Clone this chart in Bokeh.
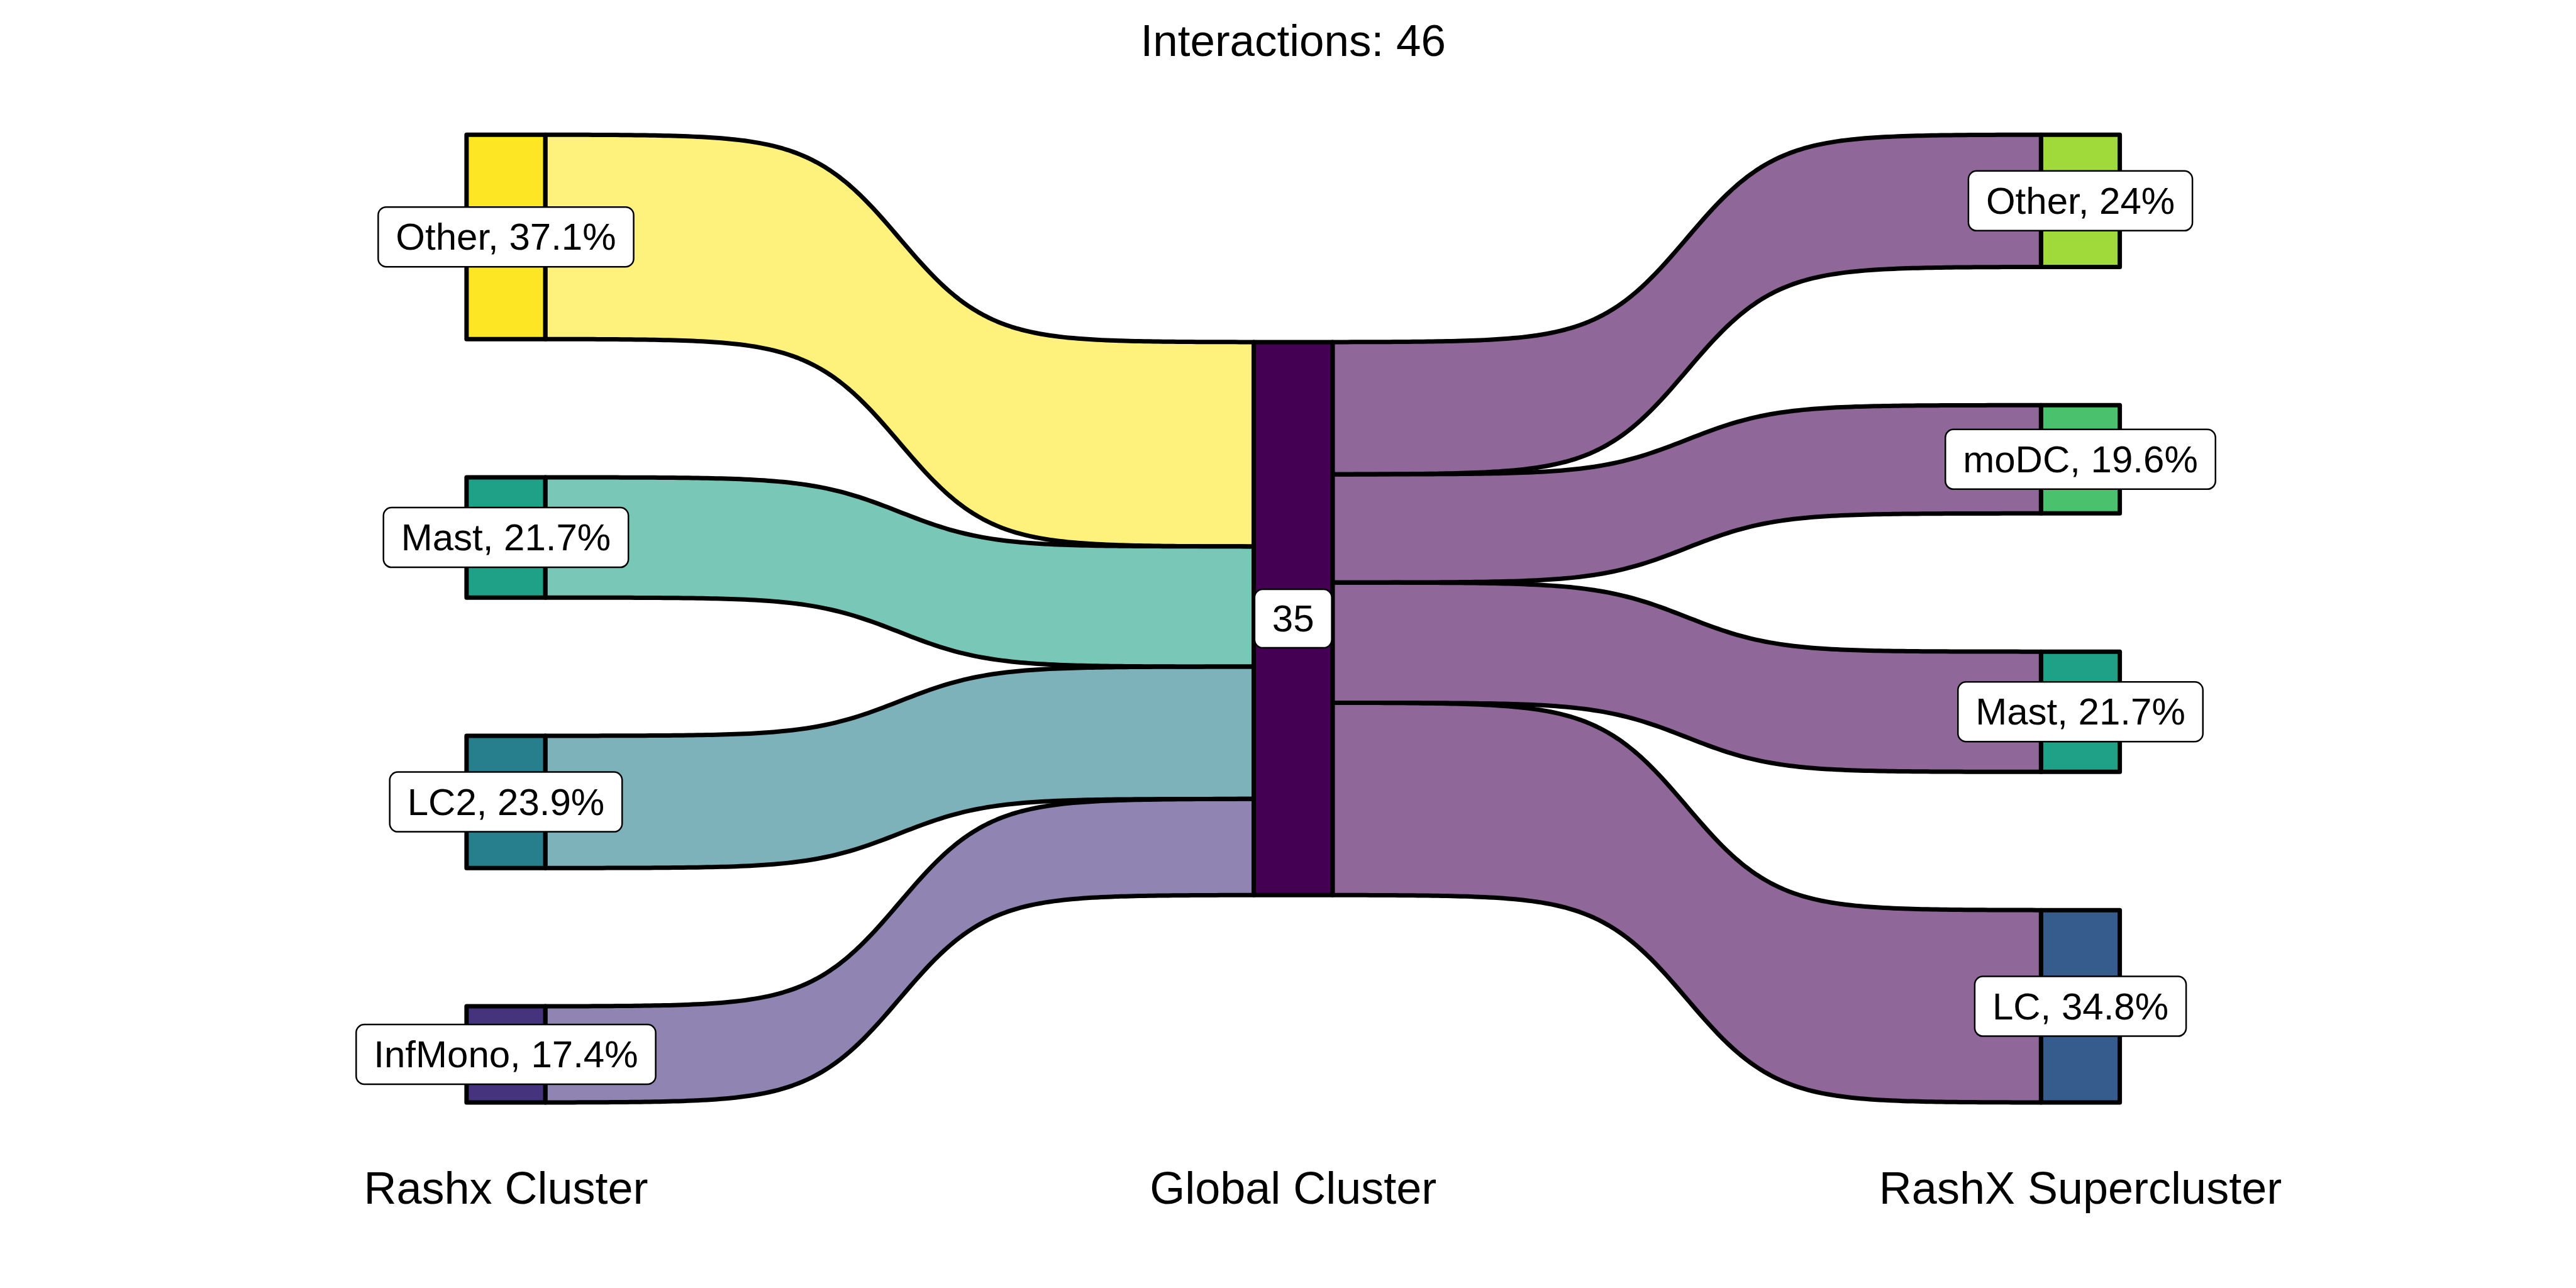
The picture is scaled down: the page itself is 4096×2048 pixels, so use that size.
import numpy as np
from bokeh.plotting import figure
from bokeh.models import Range1d
from bokeh.core.properties import value
from bokeh.embed import file_html
from bokeh.resources import INLINE

# ---------------- data ----------------
title_text = "Interactions: 46"
axis_names = ["Rashx Cluster", "Global Cluster", "RashX Supercluster"]

left_nodes = ["Other", "Mast", "LC2", "InfMono"]
left_counts = [17, 10, 11, 8]
left_labels = ["Other, 37.1%", "Mast, 21.7%", "LC2, 23.9%", "InfMono, 17.4%"]
left_colors = ["#FDE725", "#1FA187", "#277F8E", "#46337E"]

center_nodes = ["35"]
center_counts = [46]
center_labels = ["35"]
center_colors = ["#440154"]

right_nodes = ["Other", "moDC", "Mast", "LC"]
right_counts = [11, 9, 10, 16]
right_labels = ["Other, 24%", "moDC, 19.6%", "Mast, 21.7%", "LC, 34.8%"]
right_colors = ["#9FDA3A", "#4AC16D", "#1FA187", "#365C8D"]

# flows: (source column, source node, target column, target node, count)
flow_src_col = [0, 0, 0, 0, 1, 1, 1, 1]
flow_src = ["Other", "Mast", "LC2", "InfMono", "35", "35", "35", "35"]
flow_tgt_col = [1, 1, 1, 1, 2, 2, 2, 2]
flow_tgt = ["35", "35", "35", "35", "Other", "moDC", "Mast", "LC"]
flow_counts = [17, 10, 11, 8, 11, 9, 10, 16]

# ---------------- layout ----------------
NODE_W = 0.1
GAP = 11.5
FLOW_ALPHA = 0.6
LINE_W = 7
S = 0.853

columns = [
    dict(nodes=left_nodes, counts=left_counts, labels=left_labels, colors=left_colors),
    dict(nodes=center_nodes, counts=center_counts, labels=center_labels, colors=center_colors),
    dict(nodes=right_nodes, counts=right_counts, labels=right_labels, colors=right_colors),
]

for ci, col in enumerate(columns):
    total = sum(col["counts"]) + GAP * (len(col["counts"]) - 1)
    top = total / 2.0
    tops, bots = [], []
    for c in col["counts"]:
        tops.append(top)
        bots.append(top - c)
        top -= c + GAP
    col["x"] = ci + 1
    col["tops"] = tops
    col["bots"] = bots
    col["out_cursor"] = list(tops)
    col["in_cursor"] = list(tops)


def sigmoid(x0, x1, y0, y1, smooth=8, n=150):
    t = np.linspace(-smooth, smooth, n)
    s = np.exp(t) / (np.exp(t) + 1)
    s = (s - s[0]) / (s[-1] - s[0])
    xs = (t + smooth) / (2 * smooth) * (x1 - x0) + x0
    ys = s * (y1 - y0) + y0
    return xs, ys


fxs, fys, fcols = [], [], []
for sc, sn, tc, tn, cnt in zip(flow_src_col, flow_src, flow_tgt_col, flow_tgt, flow_counts):
    scol = columns[sc]
    tcol = columns[tc]
    si = scol["nodes"].index(sn)
    ti = tcol["nodes"].index(tn)
    y0t = scol["out_cursor"][si]
    y0b = y0t - cnt
    scol["out_cursor"][si] = y0b
    y1t = tcol["in_cursor"][ti]
    y1b = y1t - cnt
    tcol["in_cursor"][ti] = y1b
    x0 = scol["x"] + NODE_W / 2
    x1 = tcol["x"] - NODE_W / 2
    tx, ty = sigmoid(x0, x1, y0t, y1t)
    bx, by = sigmoid(x0, x1, y0b, y1b)
    fxs.append(list(tx) + list(bx[::-1]))
    fys.append(list(ty) + list(by[::-1]))
    fcols.append(scol["colors"][si])

# ranges so that everything sits at 0.853 of the reference
PX_PER_COL = 1467.5 * S
COL1_PX = 942.5 * S
PX_PER_UNIT = 22.41 * S
MID_PX = 1152.5 * S
W, H = 4080, 2032
x_start = 1 - COL1_PX / PX_PER_COL
x_end = 1 + (W - COL1_PX) / PX_PER_COL
y_end = MID_PX / PX_PER_UNIT
y_start = -(H - MID_PX) / PX_PER_UNIT

TITLE_Y = (MID_PX - 64) / PX_PER_UNIT
AXIS_Y = -(1888 - MID_PX) / PX_PER_UNIT

p = figure(width=W, height=H, output_backend="svg", toolbar_location=None,
           x_range=Range1d(x_start, x_end), y_range=Range1d(y_start, y_end),
           x_axis_type=None, y_axis_type=None, min_border=0)
p.outline_line_color = None
p.xgrid.visible = False
p.ygrid.visible = False
p.background_fill_color = "white"
p.border_fill_color = "white"

# flows
p.patches(fxs, fys, fill_color=fcols, fill_alpha=FLOW_ALPHA,
          line_color="black", line_width=LINE_W, line_join="round")

# nodes
nl, nr, nt, nb, nc = [], [], [], [], []
lx, ly, lt = [], [], []
cx, cy, ct = [], [], []
for ci, col in enumerate(columns):
    for i in range(len(col["nodes"])):
        nl.append(col["x"] - NODE_W / 2)
        nr.append(col["x"] + NODE_W / 2)
        nt.append(col["tops"][i])
        nb.append(col["bots"][i])
        nc.append(col["colors"][i])
        mid = (col["tops"][i] + col["bots"][i]) / 2
        if ci == 1:
            cx.append(col["x"]); cy.append(mid); ct.append(col["labels"][i])
        else:
            lx.append(col["x"]); ly.append(mid); lt.append(col["labels"][i])

p.quad(left=nl, right=nr, top=nt, bottom=nb, fill_color=nc,
       line_color="black", line_width=LINE_W, line_join="round")

label_style = dict(text_align="center", text_baseline="middle",
                   text_font=value("Liberation Sans"), text_font_size=value("60px"),
                   text_color="black", background_fill_color="white",
                   border_line_color="black", border_line_width=2.5, border_radius=13)

# node labels
p.text(x=lx, y=ly, text=lt, padding=(28, 14), **label_style)
p.text(x=cx, y=cy, text=ct, padding=(28, 26), **label_style)

# axis names
p.text(x=[c["x"] for c in columns], y=[AXIS_Y] * 3, text=axis_names,
       text_align="center", text_baseline="middle",
       text_font=value("Liberation Sans"), text_font_size=value("72px"),
       text_color="black")

# title
p.text(x=[2], y=[TITLE_Y], text=[title_text], text_align="center",
       text_baseline="middle", text_font=value("Liberation Sans"),
       text_font_size=value("71px"), text_color="black")

open("out.html", "w").write(file_html(p, INLINE))
